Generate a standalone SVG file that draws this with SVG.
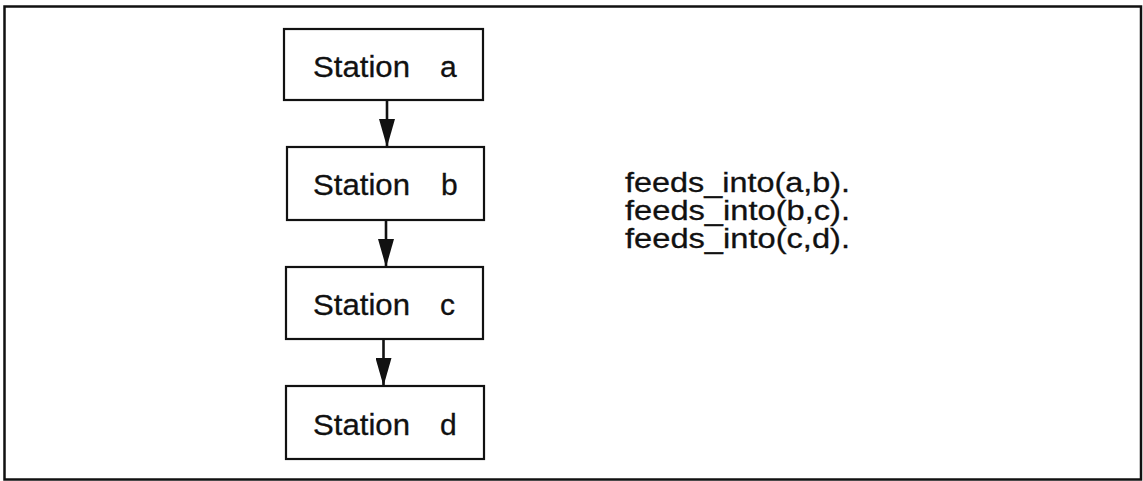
<svg xmlns="http://www.w3.org/2000/svg" width="1143" height="481" viewBox="0 0 1143 481">
  <style>
    .frame { fill: none; stroke: #111; stroke-width: 2.5; }
    .box { fill: #fff; stroke: #111; stroke-width: 2.2; }
    .lbl { font-family: "Liberation Sans", Arial, sans-serif; font-size: 30px; fill: #111; stroke: #111; stroke-width: 0.3; }
    .fact { font-family: "Liberation Sans", Arial, sans-serif; font-size: 27px; fill: #111; stroke: #111; stroke-width: 0.3; }
    .edge { stroke: #111; stroke-width: 2.6; fill: none; }
  </style>
  <defs>
    <!-- filled triangular head, 28 long and 16 wide -->
    <marker id="head" markerUnits="userSpaceOnUse" markerWidth="28" markerHeight="16" refX="28" refY="8" viewBox="0 0 28 16" orient="auto">
      <path d="M0,0 L28,8 L0,16 Z" fill="#111"/>
    </marker>
  </defs>
  <rect width="1143" height="481" fill="#fff"/>
  <rect class="frame" x="4.5" y="6.5" width="1136.5" height="473"/>

  <g id="connectors">
    <line class="edge" x1="387" y1="100" x2="387" y2="147" marker-end="url(#head)"/>
    <line class="edge" x1="386" y1="220" x2="386" y2="267" marker-end="url(#head)"/>
    <line class="edge" x1="383.5" y1="339" x2="383.5" y2="386" marker-end="url(#head)"/>
  </g>

  <g id="station-a">
    <rect class="box" x="284" y="29" width="199" height="71"/>
    <text class="lbl" x="313" y="77" textLength="97" lengthAdjust="spacingAndGlyphs">Station</text>
    <text class="lbl" x="440" y="77">a</text>
  </g>
  <g id="station-b">
    <rect class="box" x="287" y="147" width="197" height="73"/>
    <text class="lbl" x="313" y="195" textLength="97" lengthAdjust="spacingAndGlyphs">Station</text>
    <text class="lbl" x="441" y="195">b</text>
  </g>
  <g id="station-c">
    <rect class="box" x="286" y="267" width="197" height="72"/>
    <text class="lbl" x="313" y="315" textLength="97" lengthAdjust="spacingAndGlyphs">Station</text>
    <text class="lbl" x="440" y="315">c</text>
  </g>
  <g id="station-d">
    <rect class="box" x="286" y="386" width="198" height="73"/>
    <text class="lbl" x="313" y="435" textLength="97" lengthAdjust="spacingAndGlyphs">Station</text>
    <text class="lbl" x="440" y="435">d</text>
  </g>

  <g id="facts">
    <text class="fact" x="625" y="192" textLength="225" lengthAdjust="spacingAndGlyphs">feeds_into(a,b).</text>
    <text class="fact" x="625" y="220" textLength="225" lengthAdjust="spacingAndGlyphs">feeds_into(b,c).</text>
    <text class="fact" x="625" y="248" textLength="225" lengthAdjust="spacingAndGlyphs">feeds_into(c,d).</text>
  </g>
</svg>
